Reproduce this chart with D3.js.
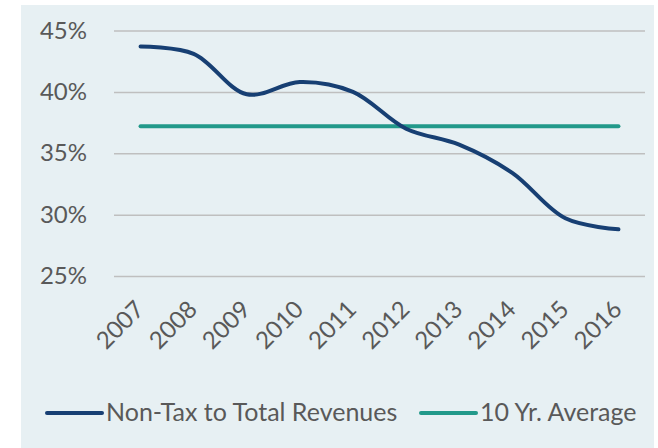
<!DOCTYPE html>
<html>
<head>
<meta charset="utf-8">
<script src="https://cdn.jsdelivr.net/npm/d3@7"></script>
<style>
  body { margin: 0; background: #fff; }
  text { font-family: Lato, "Open Sans", sans-serif; fill: #595959; }
</style>
</head>
<body>
<div id="chart"></div>
<script>
// Data
const years = ["2007", "2008", "2009", "2010", "2011", "2012", "2013", "2014", "2015", "2016"];
const nonTaxShare = [43.7, 43.1, 39.8, 40.8, 40.0, 37.0, 35.7, 33.4, 29.7, 28.8];
const tenYrAverage = [37.2, 37.2, 37.2, 37.2, 37.2, 37.2, 37.2, 37.2, 37.2, 37.2];
const yTicks = [25, 30, 35, 40, 45];
const seriesNames = ["Non-Tax to Total Revenues", "10 Yr. Average"];
const seriesColors = ["#173f73", "#22998a"];

const width = 658;
const height = 448;
const plot = {left: 114, right: 645, top: 30.5, bottom: 276};

const svg = d3.select("#chart")
  .append("svg")
  .attr("width", width)
  .attr("height", height);

// light panel behind everything
svg.append("rect")
  .attr("x", 21).attr("y", 5)
  .attr("width", 633).attr("height", 443)
  .attr("fill", "#e7f0f3");

const x = d3.scaleBand().domain(years).range([plot.left, plot.right]);
const y = d3.scaleLinear().domain([25, 45]).range([plot.bottom, plot.top]);

// gridlines + y labels
const yAxis = svg.append("g")
  .attr("transform", `translate(${plot.left},0)`)
  .call(d3.axisLeft(y).tickValues(yTicks)
    .tickSize(-(plot.right - plot.left))
    .tickPadding(27)
    .tickFormat(d => d + "%"));
yAxis.select(".domain").remove();
yAxis.selectAll(".tick line").attr("stroke", "#bfbfbf").attr("stroke-width", 1.5);
yAxis.selectAll(".tick text")
  .attr("fill", "#595959")
  .style("font-size", "24px");

// x labels, rotated
const xAxis = svg.append("g")
  .attr("transform", `translate(0,${plot.bottom})`)
  .call(d3.axisBottom(x).tickSize(0).tickPadding(0));
xAxis.select(".domain").remove();
xAxis.selectAll(".tick text")
  .attr("fill", "#595959")
  .style("font-size", "24px")
  .attr("text-anchor", "end")
  .attr("dy", 0)
  .attr("transform", "translate(5,35) rotate(-45)");

const line = d3.line()
  .x((d, i) => x(years[i]) + x.bandwidth() / 2)
  .y(d => y(d))
  .curve(d3.curveCatmullRom.alpha(0.5));

svg.append("path")
  .datum(tenYrAverage)
  .attr("d", line)
  .attr("fill", "none")
  .attr("stroke", seriesColors[1])
  .attr("stroke-width", 4)
  .attr("stroke-linecap", "round");

svg.append("path")
  .datum(nonTaxShare)
  .attr("d", line)
  .attr("fill", "none")
  .attr("stroke", seriesColors[0])
  .attr("stroke-width", 4)
  .attr("stroke-linecap", "round");

// legend
const legendX = [47, 421];
const legend = svg.selectAll(".legend")
  .data(seriesNames)
  .enter()
  .append("g")
  .attr("class", "legend")
  .attr("transform", (d, i) => `translate(${legendX[i]},413)`);

legend.append("line")
  .attr("x1", 0).attr("x2", 55)
  .attr("stroke", (d, i) => seriesColors[i])
  .attr("stroke-width", 4)
  .attr("stroke-linecap", "round");

legend.append("text")
  .attr("x", 59)
  .attr("y", 8)
  .style("font-size", "25px")
  .text(d => d);
</script>
</body>
</html>
